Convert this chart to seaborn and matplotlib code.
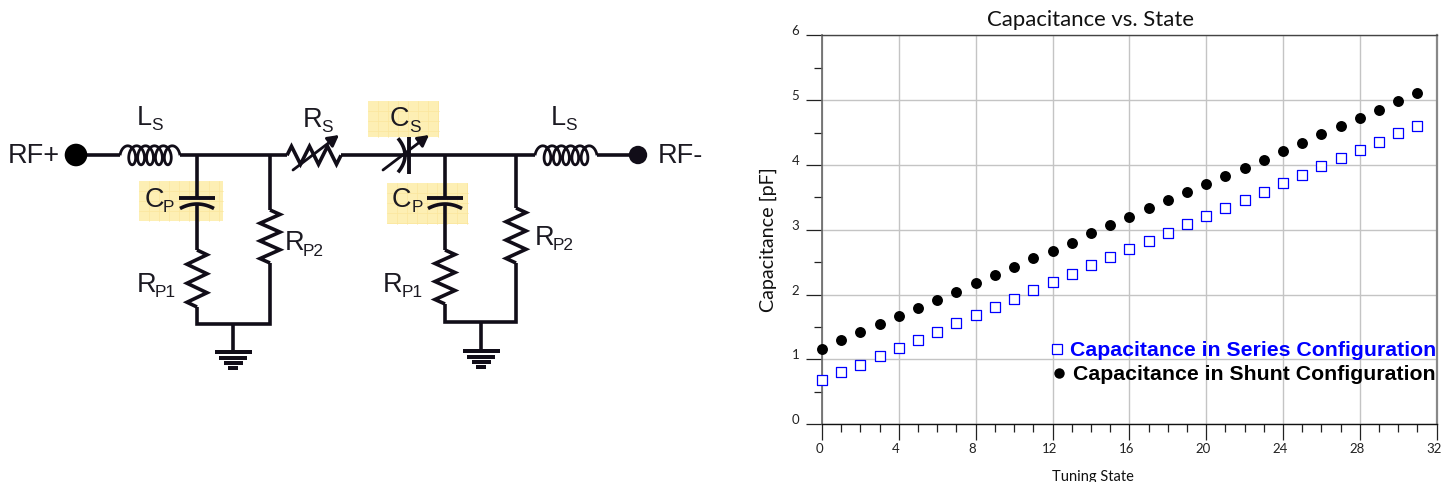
import numpy as np
import pandas as pd
import seaborn as sns
import matplotlib.pyplot as plt
from matplotlib.patches import Rectangle, Circle
from matplotlib.ticker import MultipleLocator
from matplotlib.transforms import ScaledTranslation

# chart data
states = list(range(32))
series_cap = [0.68, 0.80, 0.92, 1.05, 1.18, 1.30, 1.43, 1.56, 1.68, 1.81, 1.94, 2.065, 2.19, 2.32, 2.45, 2.575,
              2.70, 2.83, 2.95, 3.085, 3.21, 3.335, 3.465, 3.59, 3.72, 3.84, 3.98, 4.10, 4.225, 4.36, 4.49, 4.605]
shunt_cap = [1.157, 1.295, 1.42, 1.54, 1.675, 1.80, 1.92, 2.045, 2.185, 2.30, 2.425, 2.56, 2.68, 2.80, 2.945, 3.07,
             3.19, 3.33, 3.455, 3.58, 3.70, 3.835, 3.96, 4.08, 4.215, 4.34, 4.47, 4.60, 4.725, 4.85, 4.98, 5.105]
series_label = "Capacitance in Series Configuration"
shunt_label = "Capacitance in Shunt Configuration"

W, H = 1441, 482
sns.set_theme(style="white")
plt.rcParams['font.family'] = ['Lato', 'DejaVu Sans']

fig = plt.figure(figsize=(W / 100, H / 100), dpi=100)

# ---- right: the chart
ax = fig.add_axes([822 / W, 1 - 424.3 / H, 614.7 / W, 389 / H])
df = pd.DataFrame({"state": states, "series": series_cap, "shunt": shunt_cap})
sns.scatterplot(data=df, x="state", y="series", marker="s", s=42, facecolor="white", edgecolor="#0000ff",
                linewidth=0.9, clip_on=False, zorder=3, ax=ax)
sns.scatterplot(data=df, x="state", y="shunt", marker="o", s=62, color="black", edgecolor="black",
                linewidth=0, clip_on=False, zorder=3, ax=ax)
ax.set_xlim(0, 32)
ax.set_ylim(0, 6)
ax.xaxis.set_major_locator(MultipleLocator(4))
ax.xaxis.set_minor_locator(MultipleLocator(1))
ax.yaxis.set_major_locator(MultipleLocator(1))
ax.yaxis.set_minor_locator(MultipleLocator(0.5))
ax.grid(True, which="major", color="#c4c4c4", lw=1)
ax.set_axisbelow(True)
ax.tick_params(which="major", length=11.5, width=0.9, color="#222222", labelsize=9.5, labelcolor="#222222", pad=2,
               bottom=True, left=True)
ax.tick_params(which="minor", length=6, width=0.9, color="#222222", bottom=True, left=True)
for side, col, lw in [("left", "#666666", 1.2), ("top", "#444444", 1), ("right", "#888888", 1.6), ("bottom", "#111111", 1)]:
    ax.spines[side].set_visible(True)
    ax.spines[side].set_color(col)
    ax.spines[side].set_linewidth(lw)
ax.set_title("Capacitance vs. State", fontsize=15.9, color="#111111", x=0.436, y=1, pad=7)
ax.set_xlabel("Tuning State", fontsize=10.5, color="#111111", labelpad=11, x=0.441)
ax.set_ylabel("Capacitance [pF]", fontsize=14.2, color="#111111", labelpad=10.5, y=0.474)

ylab_shift = ScaledTranslation(-4 / 100, 5 / 100, fig.dpi_scale_trans)
for lab in ax.get_yticklabels():
    lab.set_transform(lab.get_transform() + ylab_shift)
xlab_shift = ScaledTranslation(-3 / 100, 0, fig.dpi_scale_trans)
for lab in ax.get_xticklabels():
    lab.set_transform(lab.get_transform() + xlab_shift)

# ---- overlay in picture pixels, for the schematic and the key
ov = fig.add_axes([0, 0, 1, 1], zorder=5)
ov.set_xlim(0, W)
ov.set_ylim(H, 0)
ov.axis("off")
ov.patch.set_alpha(0)

ARIAL = ["Liberation Sans", "DejaVu Sans"]
ov.text(1436, 350.5, series_label, color="#0000ff", fontsize=15.35, fontweight="bold", family=ARIAL, ha="right", va="center")
ov.text(1436, 374.5, shunt_label, color="black", fontsize=15.35, fontweight="bold", family=ARIAL, ha="right", va="center")
ov.plot([1057], [348.5], marker="s", ms=7.5, mfc="white", mec="#0000ff", mew=0.9)
ov.plot([1059], [372.5], marker="o", ms=7.5, mfc="black", mec="black", mew=0)

WIRE = "#110d18"
ZIG_STEPS = np.array([0, 0.5, 1.5, 2.5, 3.5, 4.5, 5.5, 6]) / 6


def wire(xs, ys, lw=2.6):
    ov.plot(xs, ys, color=WIRE, lw=lw, solid_capstyle="butt", solid_joinstyle="miter")


def highlight(x, y, w, h):
    ov.add_patch(Rectangle((x, y), w, h, fc="#fdefb4", ec="none"))
    for gx in np.arange(x + 10, x + w, 10):
        ov.plot([gx, gx], [y, y + h], color="#fbe69c", lw=0.5)
    for gy in np.arange(y + 10, y + h, 10):
        ov.plot([x, x + w], [gy, gy], color="#fbe69c", lw=0.5)


def zigzag_v(x, y0, y1, amp=10):
    ys = y0 + (y1 - y0) * ZIG_STEPS
    offs = [0, amp, -amp, amp, -amp, amp, -amp, 0]
    wire(x + np.array(offs), ys)


def zigzag_h(x0, x1, y, amp=9):
    xs = x0 + (x1 - x0) * ZIG_STEPS
    offs = [0, -amp, amp, -amp, amp, -amp, amp, 0]
    wire(xs, y + np.array(offs))


def coil(x0, x1, y, loops=5, b=9.5, a=5.5):
    th = np.linspace(np.pi / 2, np.pi * 1.5 + 2 * np.pi * loops, 400)
    s = (x1 - x0 - 2 * a) / (th[-1] - th[0])
    xs = x0 + s * (th - th[0]) - a * (np.sin(th) - 1)
    wire(xs, y + b * np.cos(th), lw=2.0)


def cap_shunt(x, y):
    wire([x - 18, x + 18], [y, y], lw=2.8)
    t = np.linspace(-1, 1, 30)
    wire(x + 17 * t, y + 6 + 4.5 * t ** 2, lw=2.6)


def ground(x, y):
    ov.add_patch(Rectangle((x - 18.5, y - 2), 37, 3.6, fc=WIRE, ec="none"))
    ov.add_patch(Rectangle((x - 14, y + 4), 28, 3.6, fc=WIRE, ec="none"))
    ov.add_patch(Rectangle((x - 9.5, y + 9), 19, 3.6, fc=WIRE, ec="none"))
    ov.add_patch(Rectangle((x - 5, y + 14), 10, 3.6, fc=WIRE, ec="none"))


def arrow(x0, y0, x1, y1):
    ov.annotate("", xy=(x1, y1), xytext=(x0, y0),
                arrowprops=dict(arrowstyle="-|>,head_length=0.55,head_width=0.3", color=WIRE, lw=2.0, shrinkA=0, shrinkB=0))


def label(x, y, main, sub=None, sx=None, sy=None):
    ov.text(x, y, main, family=ARIAL, fontsize=19.5, color="#1c1a22", va="baseline")
    if sub:
        ov.text(sx, sy, sub, family=ARIAL, fontsize=12.4, color="#1c1a22", va="baseline")


highlight(139, 181, 84, 40)
highlight(368, 101, 71, 36)
highlight(387, 183, 81, 41)

# main line
wire([76, 120], [155.3, 155.3])
coil(120, 180, 155.3)
wire([180, 287], [155.3, 155.3])
zigzag_h(287, 341, 155.3)
wire([341, 535], [155.3, 155.3])
coil(535, 597, 155.3)
wire([597, 638], [155.3, 155.3])
ov.add_patch(Circle((76, 155), 11.3, fc="black", ec="none", zorder=4))
ov.add_patch(Circle((638, 155), 9.2, fc="#110d18", ec="none", zorder=4))

# left section
wire([197, 197], [155, 198])
cap_shunt(197, 198)
wire([197, 197], [204, 250])
zigzag_v(197, 250, 307)
wire([197, 197, 270, 270], [307, 324, 324, 263])
zigzag_v(270, 210, 263)
wire([270, 270], [155, 210])
wire([233, 233], [324, 352])
ground(233, 352)

# right section
wire([445, 445], [155, 198])
cap_shunt(445, 198)
wire([445, 445], [204, 250])
zigzag_v(445, 250, 304)
wire([445, 445, 516, 516], [304, 322, 322, 263])
zigzag_v(516, 208, 263)
wire([516, 516], [155, 208])
wire([481, 481], [322, 351])
ground(481, 351)

# tunable parts
arrow(293, 170, 339, 135)
wire([409, 409], [137, 174], lw=2.8)
t = np.linspace(-1, 1, 30)
wire(405 - 7 * t ** 2, 155.3 + 17 * t, lw=2.6)
arrow(383, 170, 429, 135)

label(8, 163, "RF+")
label(658, 163, "RF-")
label(137, 125, "L", "S", 151, 130)
label(551, 125, "L", "S", 565, 130)
label(303, 127, "R", "S", 321, 132)
label(390, 126, "C", "S", 409, 132)
label(145, 207, "C", "P", 163, 212)
label(392, 207, "C", "P", 412, 212)
label(137, 292, "R", "P1", 155, 297)
label(383, 292, "R", "P1", 402, 297)
label(285, 250, "R", "P2", 303, 256)
label(535, 245, "R", "P2", 553, 250)

fig.savefig("out.png", dpi=100)
